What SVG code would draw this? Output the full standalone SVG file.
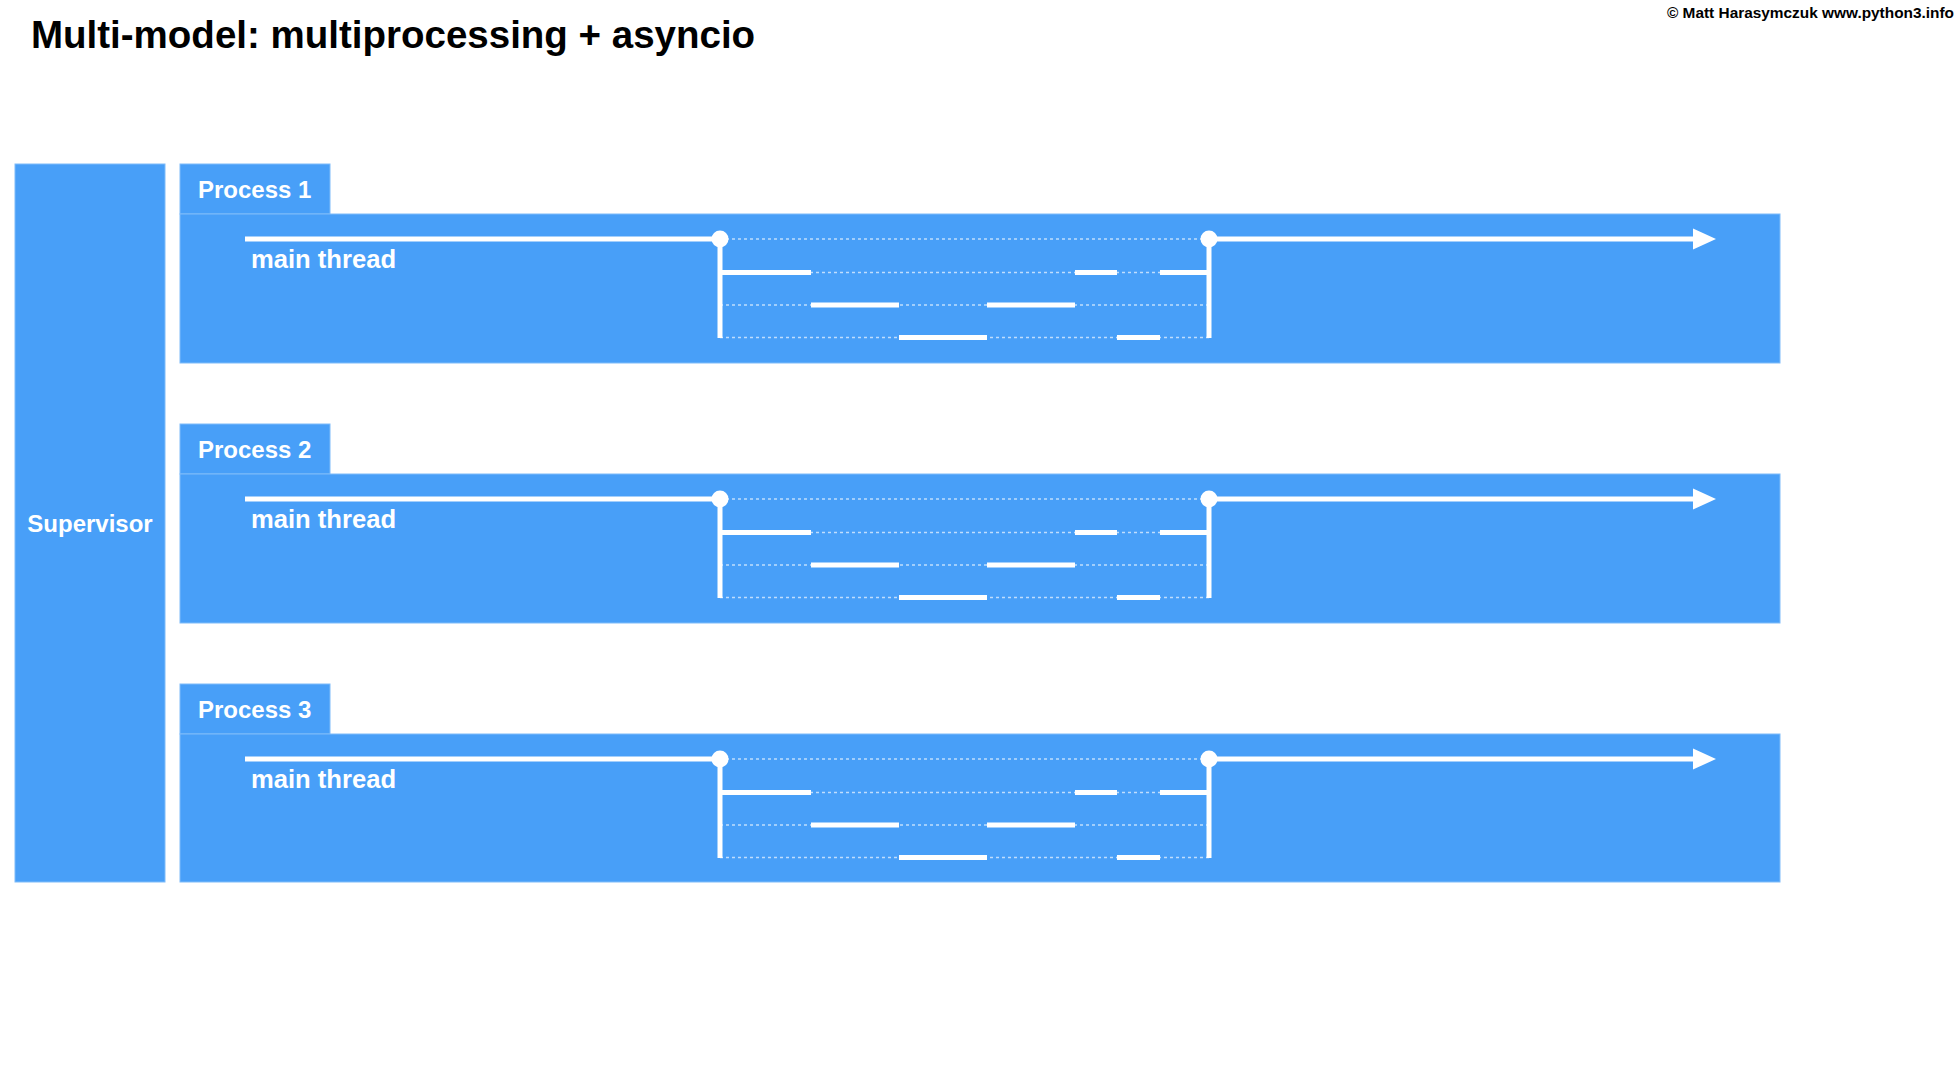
<svg xmlns="http://www.w3.org/2000/svg" width="1960" height="1080" viewBox="0 0 1960 1080">
<style>
  .box { fill: #489ff8; stroke: #7fbcfa; stroke-width: 1; }
  .t { font-family: "Liberation Sans", Arial, sans-serif; font-weight: bold; }
  .lbl { fill: #ffffff; font-size: 24px; }
  .mt { font-size: 25.6px; }
  .th { stroke: #ffffff; stroke-width: 5; fill: none; stroke-linecap: butt; }
  .dash { stroke: #ffffff; stroke-opacity: 0.65; stroke-width: 1.5; stroke-dasharray: 3 3; fill: none; }
</style>
<defs>
  <g id="threads">
    <line class="dash" x1="720" y1="239" x2="1209" y2="239"/>
    <line class="dash" x1="720" y1="272.5" x2="1209" y2="272.5"/>
    <line class="dash" x1="720" y1="305" x2="1209" y2="305"/>
    <line class="dash" x1="720" y1="337.5" x2="1209" y2="337.5"/>
    <line class="th" x1="245" y1="239" x2="720" y2="239"/>
    <line class="th" x1="1209" y1="239" x2="1696" y2="239"/>
    <polygon points="1693,228.5 1716,239 1693,249.5" fill="#ffffff"/>
    <line class="th" x1="720" y1="239" x2="720" y2="338"/>
    <line class="th" x1="1209" y1="239" x2="1209" y2="338"/>
    <circle cx="720" cy="239" r="8.5" fill="#ffffff"/>
    <circle cx="1209" cy="239" r="8.5" fill="#ffffff"/>
    <line class="th" x1="720" y1="272.5" x2="811" y2="272.5"/>
    <line class="th" x1="1075" y1="272.5" x2="1117" y2="272.5"/>
    <line class="th" x1="1160" y1="272.5" x2="1209" y2="272.5"/>
    <line class="th" x1="811" y1="305" x2="899" y2="305"/>
    <line class="th" x1="987" y1="305" x2="1075" y2="305"/>
    <line class="th" x1="899" y1="337.5" x2="987" y2="337.5"/>
    <line class="th" x1="1117" y1="337.5" x2="1160" y2="337.5"/>
  </g>
</defs>
<rect width="1960" height="1080" fill="#ffffff"/>
<text class="t" x="31" y="48" font-size="38.5" fill="#000000">Multi-model: multiprocessing + asyncio</text>
<text class="t" x="1954" y="18" font-size="15.4" fill="#000000" text-anchor="end">© Matt Harasymczuk www.python3.info</text>

<g id="supervisor">
  <rect class="box" x="15" y="164" width="150" height="718"/>
  <text class="t lbl" x="90" y="532" text-anchor="middle">Supervisor</text>
</g>

<g id="process1">
  <rect class="box" x="180" y="164" width="150" height="50"/>
  <rect class="box" x="180" y="214" width="1600" height="149"/>
  <text class="t lbl" x="198" y="198">Process 1</text>
  <text class="t lbl mt" x="251" y="268">main thread</text>
</g>
<g id="process2">
  <rect class="box" x="180" y="424" width="150" height="50"/>
  <rect class="box" x="180" y="474" width="1600" height="149"/>
  <text class="t lbl" x="198" y="458">Process 2</text>
  <text class="t lbl mt" x="251" y="528">main thread</text>
</g>
<g id="process3">
  <rect class="box" x="180" y="684" width="150" height="50"/>
  <rect class="box" x="180" y="734" width="1600" height="148"/>
  <text class="t lbl" x="198" y="718">Process 3</text>
  <text class="t lbl mt" x="251" y="788">main thread</text>
</g>

<g id="connectors">
  <use href="#threads"/>
  <use href="#threads" y="260"/>
  <use href="#threads" y="520"/>
</g>
</svg>
